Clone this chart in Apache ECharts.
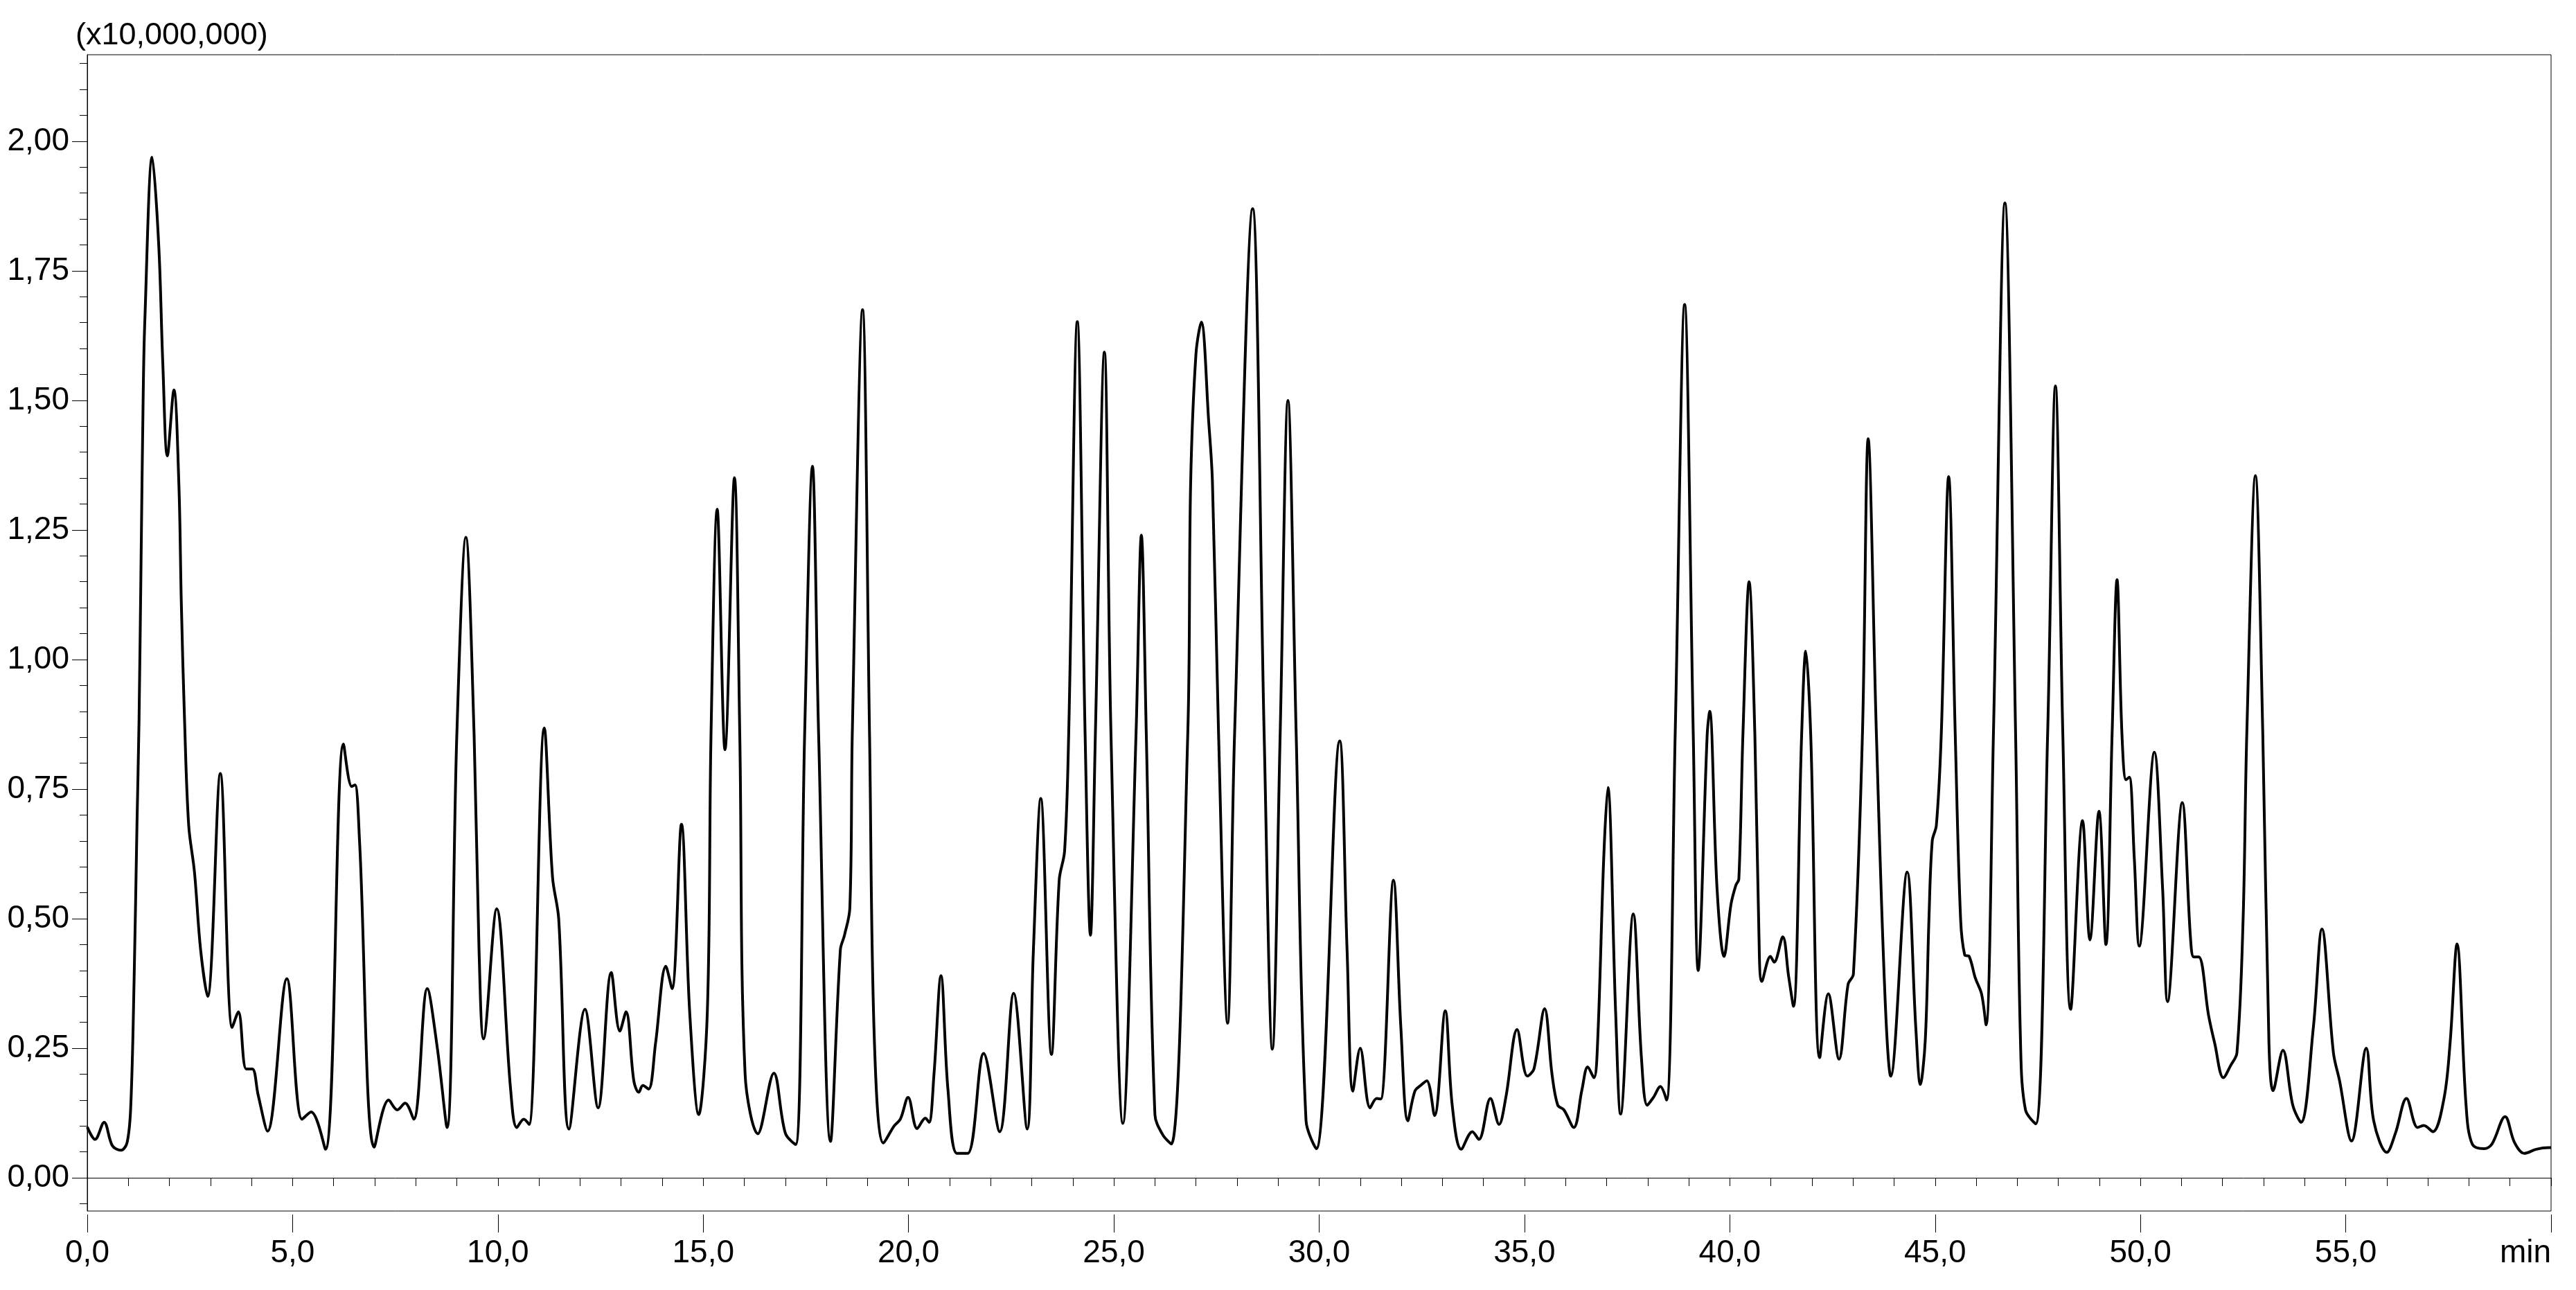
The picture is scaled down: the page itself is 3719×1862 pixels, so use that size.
<!DOCTYPE html>
<html>
<head>
<meta charset="utf-8">
<title>Chromatogram</title>
<script src="https://cdn.jsdelivr.net/npm/echarts@6/dist/echarts.min.js"></script>
<style>
  html, body { margin: 0; padding: 0; background: #fff; }
  #chart { width: 3719px; height: 1862px; }
</style>
</head>
<body>
<div id="chart"></div>
<script>
// retention time (min)
const retentionTimes = [
  0.00, 0.19, 0.41, 0.61, 0.82, 0.97, 1.06, 1.14, 1.21, 1.26, 1.31, 1.36, 1.40, 1.58, 1.74, 1.84, 1.95, 2.11, 2.23, 2.29,
  2.37, 2.47, 2.61, 2.76, 2.93, 3.24, 3.53, 3.68, 3.87, 4.02, 4.16, 4.39, 4.86, 5.23, 5.45, 5.80, 6.24, 6.44, 6.52, 6.63,
  6.99, 7.34, 7.55, 7.74, 7.95, 8.28, 8.52, 8.76, 9.00, 9.22, 9.42, 9.54, 9.65, 9.97, 10.31, 10.46, 10.63, 10.76, 11.13, 11.33,
  11.48, 11.73, 12.12, 12.44, 12.76, 12.97, 13.12, 13.31, 13.43, 13.53, 13.67, 13.84, 14.09, 14.24, 14.47, 14.67, 14.89, 15.10, 15.19, 15.34,
  15.53, 15.76, 15.89, 16.02, 16.33, 16.72, 17.00, 17.25, 17.47, 17.66, 17.81, 18.10, 18.34, 18.44, 18.57, 18.63, 18.88, 19.05, 19.17, 19.39,
  19.65, 19.80, 19.99, 20.21, 20.41, 20.50, 20.62, 20.79, 20.96, 21.18, 21.44, 21.83, 22.22, 22.56, 22.89, 23.04, 23.22, 23.48, 23.67, 23.80,
  23.90, 24.11, 24.30, 24.43, 24.55, 24.77, 24.93, 25.22, 25.54, 25.67, 25.79, 26.00, 26.19, 26.40, 26.80, 26.87, 27.00, 27.13, 27.31, 27.40,
  27.55, 27.77, 27.94, 28.38, 28.66, 28.86, 29.05, 29.24, 29.44, 29.68, 29.93, 30.50, 30.68, 30.82, 31.00, 31.24, 31.40, 31.50, 31.81, 31.99,
  32.16, 32.33, 32.47, 32.62, 32.81, 33.07, 33.24, 33.46, 33.73, 33.89, 34.17, 34.38, 34.55, 34.82, 35.07, 35.23, 35.49, 35.67, 35.81, 35.96,
  36.20, 36.40, 36.54, 36.69, 36.78, 36.93, 37.03, 37.22, 37.34, 37.65, 37.85, 37.99, 38.14, 38.31, 38.46, 38.67, 38.90, 39.11, 39.23, 39.45,
  39.51, 39.69, 39.86, 40.03, 40.15, 40.22, 40.32, 40.47, 40.61, 40.71, 40.78, 40.99, 41.08, 41.29, 41.43, 41.55, 41.75, 41.85, 41.97, 42.19,
  42.40, 42.66, 42.88, 43.01, 43.23, 43.37, 43.57, 43.78, 43.92, 44.32, 44.53, 44.64, 44.76, 44.85, 44.93, 45.03, 45.15, 45.33, 45.49, 45.62,
  45.72, 45.83, 45.98, 46.13, 46.24, 46.42, 46.70, 46.96, 47.08, 47.20, 47.45, 47.74, 47.93, 48.11, 48.30, 48.59, 48.77, 48.99, 49.16, 49.31,
  49.43, 49.55, 49.65, 49.73, 49.85, 49.97, 50.34, 50.54, 50.66, 51.02, 51.22, 51.30, 51.42, 51.66, 51.81, 52.02, 52.20, 52.35, 52.50, 52.59,
  52.80, 52.98, 53.13, 53.23, 53.47, 53.71, 53.91, 54.21, 54.42, 54.70, 54.85, 55.14, 55.50, 55.68, 56.00, 56.21, 56.48, 56.75, 56.90, 57.12,
  57.39, 57.54, 57.71, 57.93, 58.08, 58.37, 58.56, 58.88, 59.11, 59.35, 59.64, 59.94, 60.00
];

// intensity (x10,000,000)
const intensities = [
  0.098, 0.074, 0.107, 0.062, 0.053, 0.068, 0.14, 0.38, 0.68, 0.88, 1.19, 1.50, 1.65, 1.969, 1.80, 1.57, 1.393, 1.52, 1.34, 1.11,
  0.88, 0.68, 0.59, 0.44, 0.35, 0.78, 0.29, 0.32, 0.21, 0.21, 0.16, 0.09, 0.384, 0.113, 0.127, 0.055, 0.837, 0.755, 0.758, 0.65,
  0.059, 0.15, 0.131, 0.144, 0.113, 0.365, 0.253, 0.097, 0.856, 1.236, 0.856, 0.44, 0.268, 0.519, 0.17, 0.097, 0.113, 0.103, 0.868, 0.58,
  0.50, 0.094, 0.325, 0.135, 0.396, 0.283, 0.32, 0.187, 0.165, 0.178, 0.171, 0.26, 0.408, 0.365, 0.682, 0.32, 0.122, 0.32, 0.856, 1.29,
  0.826, 1.351, 0.856, 0.20, 0.085, 0.202, 0.086, 0.064, 0.856, 1.373, 0.856, 0.07, 0.44, 0.468, 0.52, 0.856, 1.675, 0.856, 0.26, 0.067,
  0.10, 0.113, 0.155, 0.095, 0.115, 0.107, 0.20, 0.39, 0.17, 0.047, 0.047, 0.24, 0.089, 0.356, 0.094, 0.438, 0.732, 0.238, 0.575, 0.63,
  0.856, 1.652, 0.856, 0.468, 0.856, 1.593, 0.856, 0.105, 0.856, 1.24, 0.856, 0.122, 0.083, 0.065, 0.856, 1.34, 1.59, 1.651, 1.459, 1.344,
  0.856, 0.298, 0.856, 1.87, 0.856, 0.248, 0.856, 1.50, 0.856, 0.11, 0.056, 0.843, 0.438, 0.167, 0.25, 0.135, 0.153, 0.152, 0.574, 0.289,
  0.11, 0.167, 0.178, 0.187, 0.12, 0.322, 0.14, 0.055, 0.089, 0.074, 0.153, 0.103, 0.157, 0.286, 0.196, 0.21, 0.326, 0.20, 0.14, 0.131,
  0.097, 0.17, 0.214, 0.193, 0.26, 0.617, 0.753, 0.319, 0.123, 0.509, 0.229, 0.14, 0.155, 0.176, 0.15, 0.856, 1.685, 0.856, 0.40, 0.856,
  0.90, 0.557, 0.427, 0.528, 0.565, 0.576, 0.856, 1.15, 0.856, 0.468, 0.379, 0.427, 0.416, 0.465, 0.39, 0.331, 0.856, 1.016, 0.856, 0.232,
  0.355, 0.229, 0.373, 0.393, 0.856, 1.426, 0.856, 0.349, 0.196, 0.59, 0.289, 0.18, 0.265, 0.50, 0.65, 0.68, 0.856, 1.353, 0.856, 0.50,
  0.43, 0.427, 0.385, 0.355, 0.295, 0.856, 1.881, 0.856, 0.26, 0.131, 0.104, 0.856, 1.528, 0.856, 0.325, 0.689, 0.459, 0.707, 0.45, 0.856,
  1.154, 0.856, 0.768, 0.773, 0.617, 0.447, 0.821, 0.558, 0.34, 0.724, 0.462, 0.426, 0.426, 0.313, 0.259, 0.193, 0.217, 0.241, 0.498, 0.856,
  1.355, 0.856, 0.259, 0.168, 0.246, 0.14, 0.107, 0.289, 0.48, 0.241, 0.187, 0.071, 0.25, 0.11, 0.049, 0.086, 0.153, 0.097, 0.101, 0.089,
  0.152, 0.259, 0.451, 0.14, 0.065, 0.056, 0.065, 0.118, 0.068, 0.047, 0.055, 0.058, 0.058
];

// axis ticks
const yLabelValues = [0, 0.25, 0.5, 0.75, 1.0, 1.25, 1.5, 1.75, 2.0];
const xLabelValues = [0, 5, 10, 15, 20, 25, 30, 35, 40, 45, 50, 55, 60];
const yUnitLabel = '(x10,000,000)';
const xUnitLabel = 'min';

const Y_MIN = -0.0642;
const Y_MAX = 2.167;

const yMinorTicks = [];
for (let i = -1; i <= 43; i++) yMinorTicks.push(+(i * 0.05).toFixed(2));
const xMinorTicks = [];
for (let i = 0; i <= 60; i++) xMinorTicks.push(i);

const FONT = "'Liberation Sans', Arial, sans-serif";

const chart = echarts.init(document.getElementById('chart'), null, { renderer: 'canvas' });

const seriesData = retentionTimes.map((t, i) => [t, intensities[i]]);

const option = {
  animation: false,
  backgroundColor: '#fff',
  title: {
    text: yUnitLabel,
    left: 104,
    top: 24,
    textStyle: { fontFamily: FONT, fontSize: 45, fontWeight: 'normal', color: '#000' }
  },
  grid: {
    left: 126, right: 36, top: 79, bottom: 114,
    show: true, borderColor: '#000', borderWidth: 1, backgroundColor: 'transparent'
  },
  xAxis: [
    {
      type: 'value', min: 0, max: 60, position: 'bottom',
      axisLine: { show: true, lineStyle: { color: '#000', width: 1 } },
      axisTick: { show: false }, axisLabel: { show: false }, splitLine: { show: false }
    },
    {
      type: 'value', min: 0, max: 60, position: 'bottom', offset: 5,
      axisLine: { show: false },
      axisTick: { show: true, customValues: xMinorTicks, length: 12, lineStyle: { color: '#000', width: 1 } },
      axisLabel: { show: false }, splitLine: { show: false }
    },
    {
      type: 'value', min: 0, max: 60, position: 'bottom', offset: 5,
      axisLine: { show: false },
      axisTick: { show: true, customValues: xLabelValues, length: 26, lineStyle: { color: '#000', width: 1 } },
      axisLabel: {
        show: true, customValues: xLabelValues, margin: 33,
        fontFamily: FONT, fontSize: 46, color: '#000', alignMaxLabel: 'right',
        formatter: v => (v === 60 ? xUnitLabel : v.toFixed(1).replace('.', ','))
      },
      splitLine: { show: false }
    }
  ],
  yAxis: [
    {
      type: 'value', min: Y_MIN, max: Y_MAX, position: 'left',
      axisLine: { show: true, lineStyle: { color: '#000', width: 1 } },
      axisTick: { show: true, customValues: yLabelValues, length: 22, lineStyle: { color: '#000', width: 1 } },
      axisLabel: {
        show: true, customValues: yLabelValues, margin: 26,
        fontFamily: FONT, fontSize: 46, color: '#000',
        formatter: v => v.toFixed(2).replace('.', ',')
      },
      splitLine: { show: false }
    },
    {
      type: 'value', min: Y_MIN, max: Y_MAX, position: 'left',
      axisLine: { show: false },
      axisTick: { show: true, customValues: yMinorTicks, length: 11, lineStyle: { color: '#000', width: 1 } },
      axisLabel: { show: false }, splitLine: { show: false }
    }
  ],
  series: [
    {
      type: 'line',
      xAxisIndex: 0,
      yAxisIndex: 0,
      data: seriesData,
      showSymbol: false,
      smooth: 0.35,
      lineStyle: { color: '#000', width: 4 },
      clip: true
    }
  ]
};

chart.setOption(option);
</script>
</body>
</html>
